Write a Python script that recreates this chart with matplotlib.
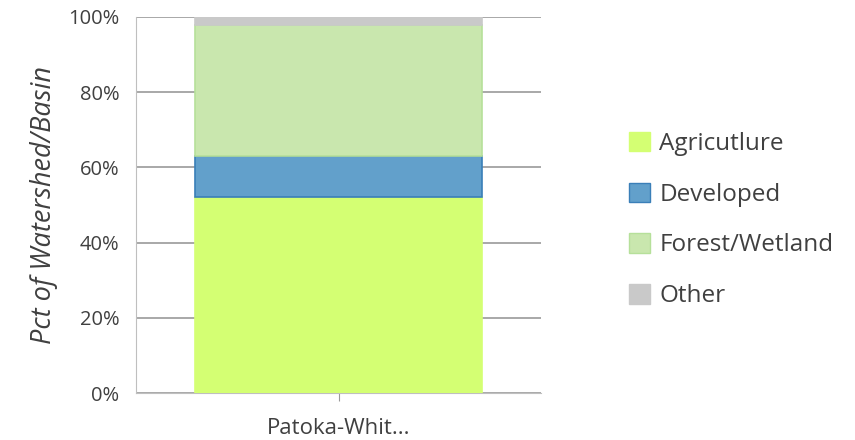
import matplotlib
matplotlib.use("Agg")
import matplotlib.pyplot as plt
from matplotlib.patches import Patch

categories = ["Patoka-Whit..."]
series_names = ["Agricutlure", "Developed", "Forest/Wetland", "Other"]
agriculture = [52.0]
developed = [11.0]
forest = [35.0]
other = [2.0]
yticks = [0, 20, 40, 60, 80, 100]
ytick_labels = ["0%", "20%", "40%", "60%", "80%", "100%"]

series = [agriculture, developed, forest, other]
faces = ["#D4FF73", "#62A0CB", "#C9E7AE", "#C9C9C9"]
edges = ["#D4FF73", "#3A7FB8", "#B6E09A", "#C9C9C9"]

plt.rcParams['font.family'] = ['Open Sans', 'DejaVu Sans']
fig = plt.figure(figsize=(8.55, 4.4), dpi=100)
ax = fig.add_axes([136/855, 1-393/440, 405/855, 376/440])

x = list(range(len(categories)))
bottom = [0.0]*len(categories)
for vals, fc, ec in zip(series, faces, edges):
    ax.bar(x, vals, width=0.71, bottom=bottom, color=fc, edgecolor=ec, linewidth=1.2, zorder=3)
    bottom = [b+v for b, v in zip(bottom, vals)]

ax.set_xlim(-0.5, 0.5)
ax.set_ylim(0, 100)
ax.set_yticks(yticks)
ax.set_yticklabels(ytick_labels, fontsize=14.5, color="#404040")
ax.set_xticks(x)
ax.set_xticklabels(categories, fontsize=16, color="#404040")
ax.yaxis.grid(True, color="#9A9A9A", linewidth=1.2, zorder=0)
ax.tick_params(axis='y', length=0, pad=12)
ax.tick_params(axis='x', length=6, color="#9A9A9A", pad=12)
for s in ["top", "right"]:
    ax.spines[s].set_visible(False)
ax.spines["left"].set_color("#BFBFBF")
ax.spines["bottom"].set_color("#BFBFBF")
ax.set_ylabel("Pct of Watershed/Basin", fontsize=19.5, style="italic", color="#404040", labelpad=7)

handles = [Patch(facecolor=fc, edgecolor=ec, label=n) for n, fc, ec in zip(series_names, faces, edges)]
fig.legend(handles=handles, loc="center left", bbox_to_anchor=(607/855, 1-220/440), frameon=False,
           fontsize=17.5, labelcolor="#404040", handlelength=0.85, handleheight=0.85, handletextpad=0.4,
           labelspacing=1.1)

fig.savefig("out.png", dpi=100)
